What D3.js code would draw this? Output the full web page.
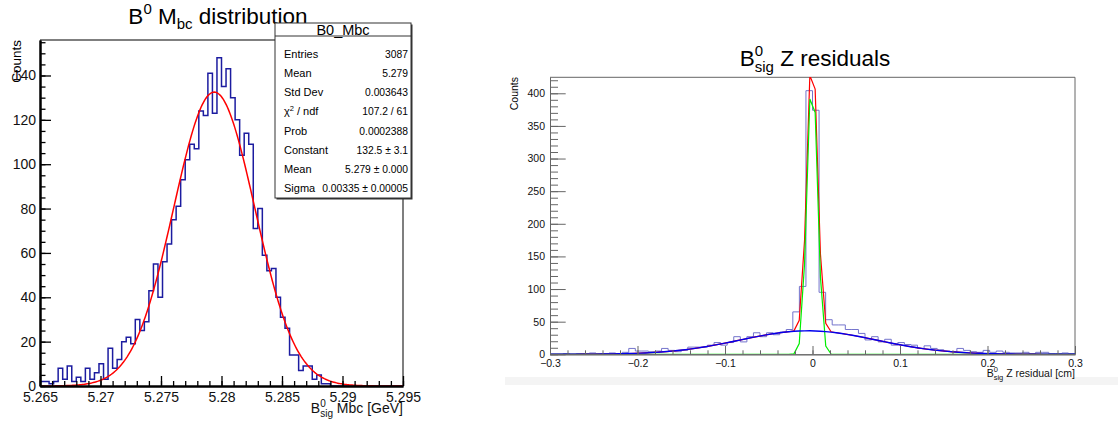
<!DOCTYPE html>
<html><head><meta charset="utf-8">
<script src="https://cdn.jsdelivr.net/npm/d3@7"></script>
<style>
body{margin:0;background:#fff;}
svg{display:block;font-family:"Liberation Sans",Arial,Helvetica,sans-serif;}
</style>
</head><body><svg id="c" width="1118" height="425"></svg>
<script>
// ---------------- data ----------------
const mbcRange = [5.265, 5.295];
const mbcCounts = [2,2,1,2,8,3,9,2,4,2,8,3,6,10,3,17,8,12,20,22,19,30,25,29,43,55,40,56,64,75,
  81,93,102,109,107,124,122,141,123,148,135,143,130,120,104,114,109,71,80,59,52,53,40,31,26,14,14,7,9,9,
  3,5,1,1,0,0,0,0,0,0,0,0,0,0,0,0,0,0,0,0];
const mbcFitParams = [132.5, 5.2794, 0.00335];
const mbcXTicks = [5.265, 5.27, 5.275, 5.28, 5.285, 5.29, 5.295];
const mbcXTickLabels = ["5.265","5.27","5.275","5.28","5.285","5.29","5.295"];
const mbcYTicks = [0,20,40,60,80,100,120,140];

const zRange = [-0.3, 0.3];
const zCounts = [0,0,1,0,1,1,2,1,1,2,1,3,9,5,5,4,5,9,6,4,6,11,11,11,14,18,14,18,27,19,
  27,33,27,33,30,34,38,65,104,404,374,95,53,45,45,38,38,32,22,27,19,23,14,18,15,14,9,13,9,7,
  5,4,9,6,4,3,6,3,5,3,2,2,3,1,3,3,1,1,2,1];
const zNarrowParams = [437, -0.0003, 0.0058];
const zWideParams = [36, -0.005, 0.078];
const zXTicks = [-0.3,-0.2,-0.1,0,0.1,0.2,0.3];
const zXTickLabels = ["\u22120.3","\u22120.2","\u22120.1","0","0.1","0.2","0.3"];
const zYTicks = [0,50,100,150,200,250,300,350,400];

const statsLabels = ["Entries","Mean","Std Dev","chi2","Prob","Constant","Mean","Sigma"];
const statsValues = ["3087","5.279","0.003643","107.2 / 61","0.0002388","132.5 \u00b1 3.1","5.279 \u00b1 0.000","0.00335 \u00b1 0.00005"];

// ---------------- helpers ----------------
const svg = d3.select("#c");
const gauss = (p, x) => p[0] * Math.exp(-0.5 * Math.pow((x - p[1]) / p[2], 2));
function stepPath(counts, range, x, y) {
  const n = counts.length, w = (range[1] - range[0]) / n;
  let d = "";
  counts.forEach((v, i) => {
    const lo = range[0] + i * w, hi = lo + w;
    d += (i === 0 ? "M" : "L") + x(lo) + "," + y(v) + "L" + x(hi) + "," + y(v);
  });
  return d;
}
function range(a, b, s) { const r = []; for (let v = a; v <= b + s * 1e-6; v += s) r.push(+v.toFixed(6)); return r; }

// ---------------- left plot ----------------
const L = {x0: 40, x1: 403, y0: 40, y1: 386};
const lx = d3.scaleLinear().domain(mbcRange).range([L.x0, L.x1]);
const ly = d3.scaleLinear().domain([0, 156]).range([L.y1, L.y0]);

svg.append("defs").call(d => {
  d.append("clipPath").attr("id", "clipL").append("rect").attr("x", L.x0).attr("y", L.y0).attr("width", L.x1 - L.x0).attr("height", L.y1 - L.y0);
  d.append("clipPath").attr("id", "clipR").append("rect").attr("x", 550).attr("y", 77).attr("width", 525).attr("height", 277.3);
});

svg.append("path").attr("d", `M${L.x0},${L.y0}H${L.x1}V${L.y1}`).attr("fill", "none").attr("stroke", "#555").attr("stroke-width", 1.5);

svg.append("path").attr("clip-path", "url(#clipL)")
  .attr("d", stepPath(mbcCounts, mbcRange, lx, ly))
  .attr("fill", "none").attr("stroke", "#1c1ca0").attr("stroke-width", 1.5);

const lfx = d3.range(0, 301).map(i => mbcRange[0] + i * (mbcRange[1] - mbcRange[0]) / 300);
svg.append("path").attr("clip-path", "url(#clipL)")
  .attr("d", d3.line().x(d => lx(d)).y(d => ly(gauss(mbcFitParams, d)))(lfx))
  .attr("fill", "none").attr("stroke", "#ff0000").attr("stroke-width", 1.5);

function styleAxis(g, color, width, fs) {
  g.select(".domain").attr("stroke", color).attr("stroke-width", width);
  g.selectAll(".tick line").attr("stroke", color).attr("stroke-width", width > 1.2 ? 1.3 : 1);
  g.selectAll("text").attr("font-size", fs).attr("fill", "#111").attr("font-family", null);
  g.attr("font-family", null);
}
const lyMinor = svg.append("g").attr("transform", `translate(${L.x0},0)`)
  .call(d3.axisLeft(ly).tickValues(range(0, 155, 5)).tickSize(-5.5).tickSizeOuter(0).tickFormat(""));
styleAxis(lyMinor, "#000", 2, 14);
const lyMajor = svg.append("g").attr("transform", `translate(${L.x0},0)`)
  .call(d3.axisLeft(ly).tickValues(mbcYTicks).tickSize(-11).tickSizeOuter(0).tickPadding(4));
styleAxis(lyMajor, "#000", 2, 14);
const lxMinor = svg.append("g").attr("transform", `translate(0,${L.y1})`)
  .call(d3.axisBottom(lx).tickValues(range(5.265, 5.295, 0.001)).tickSize(-5).tickSizeOuter(0).tickFormat(""));
styleAxis(lxMinor, "#000", 2, 14);
const lxMajor = svg.append("g").attr("transform", `translate(0,${L.y1})`)
  .call(d3.axisBottom(lx).tickValues(mbcXTicks).tickSize(-10).tickSizeOuter(0).tickPadding(6)
    .tickFormat((d, i) => mbcXTickLabels[i]));
styleAxis(lxMajor, "#000", 2, 14);

const lt = svg.append("text").attr("x", 218).attr("y", 24).attr("text-anchor", "middle").attr("font-size", 22.5).attr("fill", "#000");
lt.append("tspan").text("B");
lt.append("tspan").attr("font-size", 15).attr("dy", -10).text("0");
lt.append("tspan").attr("dy", 10).text(" M");
lt.append("tspan").attr("font-size", 15).attr("dy", 5).text("bc");
lt.append("tspan").attr("dy", -5).text(" distribution");

svg.append("text").attr("transform", "translate(21,40) rotate(-90)").attr("text-anchor", "end")
  .attr("font-size", 13.5).attr("fill", "#000").text("Counts");

const lxt = svg.append("text").attr("x", 403).attr("y", 413).attr("text-anchor", "end").attr("font-size", 14).attr("fill", "#111");
lxt.append("tspan").text("B");
lxt.append("tspan").attr("font-size", 10).attr("dy", -6).text("0");
lxt.append("tspan").attr("font-size", 10).attr("dx", -5.6).attr("dy", 10).text("sig");
lxt.append("tspan").attr("dy", -4).text(" Mbc [GeV]");

// stats box
const SB = {x0: 275, x1: 411, y0: 23, y1: 198};
svg.append("rect").attr("x", SB.x0 + 1.5).attr("y", SB.y0 + 1.5).attr("width", SB.x1 - SB.x0).attr("height", SB.y1 - SB.y0).attr("fill", "#333");
svg.append("rect").attr("x", SB.x0).attr("y", SB.y0).attr("width", SB.x1 - SB.x0).attr("height", SB.y1 - SB.y0)
  .attr("fill", "#fff").attr("stroke", "#333").attr("stroke-width", 1);
svg.append("line").attr("x1", SB.x0).attr("x2", SB.x1).attr("y1", 36).attr("y2", 36).attr("stroke", "#333");
svg.append("text").attr("x", (SB.x0 + SB.x1) / 2).attr("y", 34.5).attr("text-anchor", "middle").attr("font-size", 14.5).attr("fill", "#000").text("B0_Mbc");
statsLabels.forEach((lab, i) => {
  const yy = 54.3 + i * 19.05 + 4;
  const t = svg.append("text").attr("x", 284).attr("y", yy).attr("font-size", 11).attr("fill", "#000");
  if (lab === "chi2") {
    t.append("tspan").text("\u03c7");
    t.append("tspan").attr("font-size", 7.5).attr("dy", -4).text("2");
    t.append("tspan").attr("dy", 4).text(" / ndf");
  } else t.text(lab);
  svg.append("text").attr("x", 408).attr("y", yy).attr("text-anchor", "end").attr("font-size", 10.3).attr("fill", "#000").text(statsValues[i]);
});

// ---------------- right plot ----------------
const R = {x0: 550, x1: 1075, y0: 77.3, y1: 354.3};
const rx = d3.scaleLinear().domain(zRange).range([R.x0, R.x1]);
const ry = d3.scaleLinear().domain([0, 424.5]).range([R.y1, R.y0]);

svg.append("rect").attr("x", 505).attr("y", 377).attr("width", 613).attr("height", 8).attr("fill", "#f4f4f4");

svg.append("path").attr("d", `M${R.x0},${R.y0}H${R.x1}V${R.y1}`).attr("fill", "none").attr("stroke", "#666").attr("stroke-width", 1);

svg.append("path").attr("clip-path", "url(#clipR)")
  .attr("d", stepPath(zCounts, zRange, rx, ry))
  .attr("fill", "none").attr("stroke", "#7474cc").attr("stroke-width", 1);

const zfx = d3.range(0, 100).map(i => zRange[0] + i * (zRange[1] - zRange[0]) / 99);
const lineR = f => d3.line().x(d => rx(d)).y(d => ry(f(d)))(zfx);
svg.append("path").attr("clip-path", "url(#clipR)")
  .attr("d", lineR(x => gauss(zNarrowParams, x) + gauss(zWideParams, x)))
  .attr("fill", "none").attr("stroke", "#ff0000").attr("stroke-width", 1.2);
svg.append("path").attr("clip-path", "url(#clipR)")
  .attr("d", lineR(x => gauss(zNarrowParams, x)))
  .attr("fill", "none").attr("stroke", "#00ee00").attr("stroke-width", 1.2);
svg.append("path").attr("clip-path", "url(#clipR)")
  .attr("d", lineR(x => gauss(zWideParams, x)))
  .attr("fill", "none").attr("stroke", "#0000ee").attr("stroke-width", 1.4);

const ryMinor = svg.append("g").attr("transform", `translate(${R.x0},0)`)
  .call(d3.axisLeft(ry).tickValues(range(0, 420, 10)).tickSize(-8).tickSizeOuter(0).tickFormat(""));
styleAxis(ryMinor, "#666", 1, 10.5);
const ryMajor = svg.append("g").attr("transform", `translate(${R.x0},0)`)
  .call(d3.axisLeft(ry).tickValues(zYTicks).tickSize(-15.7).tickSizeOuter(0).tickPadding(5));
styleAxis(ryMajor, "#666", 1, 10.5);
const rxMinor = svg.append("g").attr("transform", `translate(0,${R.y1})`)
  .call(d3.axisBottom(rx).tickValues(range(-0.3, 0.3, 0.02)).tickSize(-4).tickSizeOuter(0).tickFormat(""));
styleAxis(rxMinor, "#666", 1, 10.5);
const rxMajor = svg.append("g").attr("transform", `translate(0,${R.y1})`)
  .call(d3.axisBottom(rx).tickValues(zXTicks).tickSize(-8.3).tickSizeOuter(0).tickPadding(5)
    .tickFormat((d, i) => zXTickLabels[i]));
styleAxis(rxMajor, "#666", 1, 10.5);

const rt = svg.append("text").attr("x", 815).attr("y", 66).attr("text-anchor", "middle").attr("font-size", 22.5).attr("fill", "#000");
rt.append("tspan").text("B");
rt.append("tspan").attr("font-size", 15).attr("dy", -10).text("0");
rt.append("tspan").attr("font-size", 15).attr("dx", -8.4).attr("dy", 16).text("sig");
rt.append("tspan").attr("dy", -6).text(" Z residuals");

svg.append("text").attr("transform", "translate(518,77) rotate(-90)").attr("text-anchor", "end")
  .attr("font-size", 10.5).attr("fill", "#000").text("Counts");

const rxt = svg.append("text").attr("x", 1075).attr("y", 377).attr("text-anchor", "end").attr("font-size", 10.5).attr("fill", "#111");
rxt.append("tspan").text("B");
rxt.append("tspan").attr("font-size", 7.5).attr("dy", -5).text("0");
rxt.append("tspan").attr("font-size", 7.5).attr("dx", -4.2).attr("dy", 8).text("sig");
rxt.append("tspan").attr("dy", -3).text(" Z residual [cm]");
</script>
</body></html>
